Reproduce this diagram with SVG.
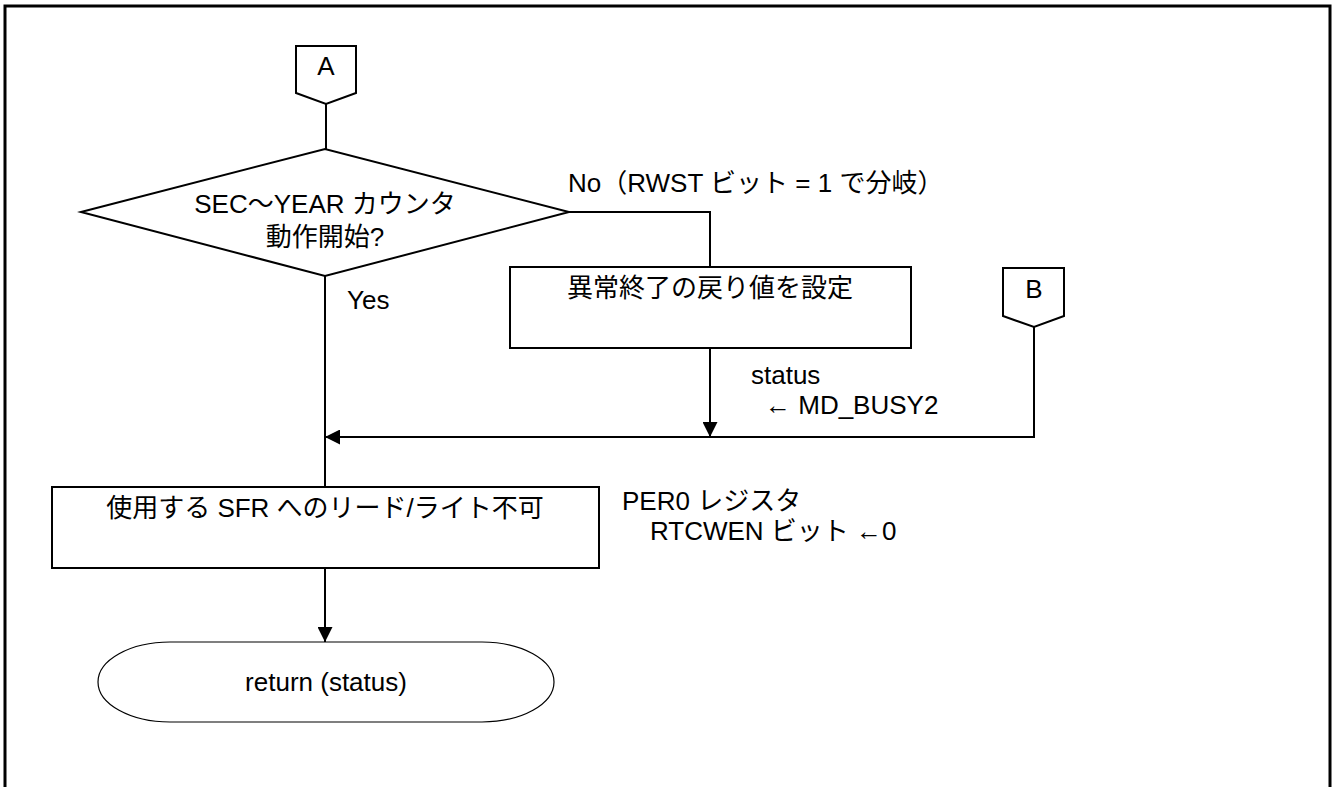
<svg xmlns="http://www.w3.org/2000/svg" width="1332" height="787" viewBox="0 0 1332 787">
<style>
.t{font-family:"Liberation Sans","Noto Sans CJK JP",sans-serif;font-size:26px;fill:#000}
.m{text-anchor:middle}
.s{fill:#fff;stroke:#000;stroke-width:2}
.c{fill:none;stroke:#000;stroke-width:2}
</style>
<defs>
<marker id="ah" viewBox="0 0 15 15" refX="15" refY="7.5" markerWidth="15" markerHeight="15" markerUnits="userSpaceOnUse" orient="auto">
<path d="M0,0 L15,7.5 L0,15 Z" fill="#000"/>
</marker>
</defs>
<rect x="0" y="0" width="1332" height="787" fill="#fff"/>
<rect x="5" y="6" width="1325" height="800" fill="none" stroke="#000" stroke-width="3"/>
<g id="connectors">
<path class="c" d="M326,104 V149"/>
<path class="c" d="M325,276 V487"/>
<path class="c" d="M569,212 H710 V267"/>
<path class="c" d="M710,348 V437" marker-end="url(#ah)"/>
<path class="c" d="M1034,327 V437 H325" marker-end="url(#ah)"/>
<path class="c" d="M325,568 V642" marker-end="url(#ah)"/>
</g>
<g id="connA">
<path class="s" d="M296,46 H356 V93 L326,104 L296,93 Z"/>
<text class="t m" x="326" y="75">A</text>
</g>
<g id="decision">
<path class="s" d="M81,212 L325,149 L569,212 L325,276 Z"/>
<text class="t m" x="325" y="213">SEC～YEAR カウンタ</text>
<text class="t m" x="325" y="246">動作開始?</text>
</g>
<g id="labels">
<text class="t" x="568" y="192">No（RWST ビット = 1 で分岐）</text>
<text class="t" x="347" y="309">Yes</text>
<text class="t" x="751" y="384">status</text>
<text class="t" x="765" y="414">← MD_BUSY2</text>
<text class="t" x="622" y="510">PER0 レジスタ</text>
<text class="t" x="650" y="540">RTCWEN ビット ←0</text>
</g>
<g id="setError">
<rect class="s" x="510" y="267" width="401" height="81"/>
<text class="t m" x="710" y="297">異常終了の戻り値を設定</text>
</g>
<g id="connB">
<path class="s" d="M1003,268 H1064 V316 L1034,327 L1003,316 Z"/>
<text class="t m" x="1034" y="298">B</text>
</g>
<g id="disableSFR">
<rect class="s" x="52" y="487" width="547" height="81"/>
<text class="t m" x="325" y="517">使用する SFR へのリード/ライト不可</text>
</g>
<g id="returnTerm">
<rect x="98" y="642" width="456" height="80" rx="72" ry="40" fill="#fff" stroke="#000" stroke-width="1.2"/>
<text class="t m" x="326" y="691">return (status)</text>
</g>
</svg>
